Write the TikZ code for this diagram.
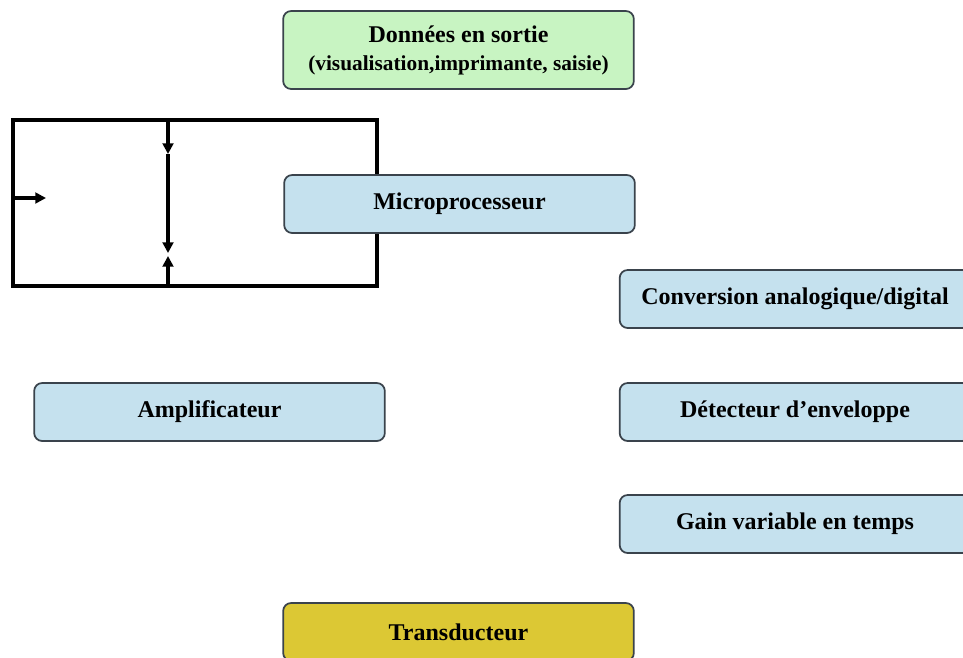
\documentclass[tikz,border=0pt]{standalone}
\usepackage{fontspec}
\setmainfont{Liberation Serif}
\usetikzlibrary{arrows.meta}

\definecolor{bleubloc}{HTML}{C5E1EE}
\definecolor{vertbloc}{HTML}{C8F4C2}
\definecolor{jaunebloc}{HTML}{DCC834}
\definecolor{bordure}{HTML}{3A434C}

\tikzset{
  bloc/.style={
    draw=bordure,
    line width=1.3pt,
    rounded corners=6pt,
    inner sep=0pt,
    minimum width=263pt,
    minimum height=43.5pt,
    font=\bfseries\fontsize{18}{20}\selectfont,
  },
}

\begin{document}
\begin{tikzpicture}[
  x=0.75pt,
  y=-0.75pt,
  >={Triangle[length=8pt,width=8pt]},
]
  \useasboundingbox (0,0) rectangle (963,657);
  \clip (0,0) rectangle (963,657);

  % cadre
  \coordinate (hg) at (13,120);
  \coordinate (hd) at (377,120);
  \coordinate (bd) at (377,286);
  \coordinate (bg) at (13,286);
  \draw[line width=2.3pt] (hg) -- (hd) -- (bd) -- (bg) -- cycle;

  \coordinate (e1) at (13,198);
  \coordinate (e2) at (46,198);
  \coordinate (v1) at (168,120);
  \coordinate (v2) at (168,154);
  \coordinate (v3) at (168,253);
  \coordinate (v4) at (168,286);
  \coordinate (v5) at (168,256);
  \begin{scope}[line width=2.3pt]
    \draw[->] (e1) -- (e2);
    \draw[->] (v1) -- (v2);
    \draw[->] (v2) -- (v3);
    \draw[->] (v4) -- (v5);
  \end{scope}

  % blocs
  \node[bloc, fill=vertbloc, minimum height=58.5pt, align=center]
    (sortie) at (458.5,50)
    {{\fontsize{18}{18}\selectfont Données en sortie}\\[1pt]
     {\fontsize{16}{16}\selectfont (visualisation,imprimante, saisie)}};

  \foreach \name/\x/\y/\texte in {
    micro/459.5/204/Microprocesseur,
    conv/795/299/{Conversion analogique/digital},
    detect/795/412/Détecteur d’enveloppe,
    gain/795/524/Gain variable en temps,
    ampli/209.5/412/Amplificateur%
  } {
    \node[bloc, fill=bleubloc] (\name) at (\x,\y) {\texte};
  }

  \node[bloc, fill=jaunebloc] (transd) at (458.5,632) {Transducteur};
\end{tikzpicture}
\end{document}
